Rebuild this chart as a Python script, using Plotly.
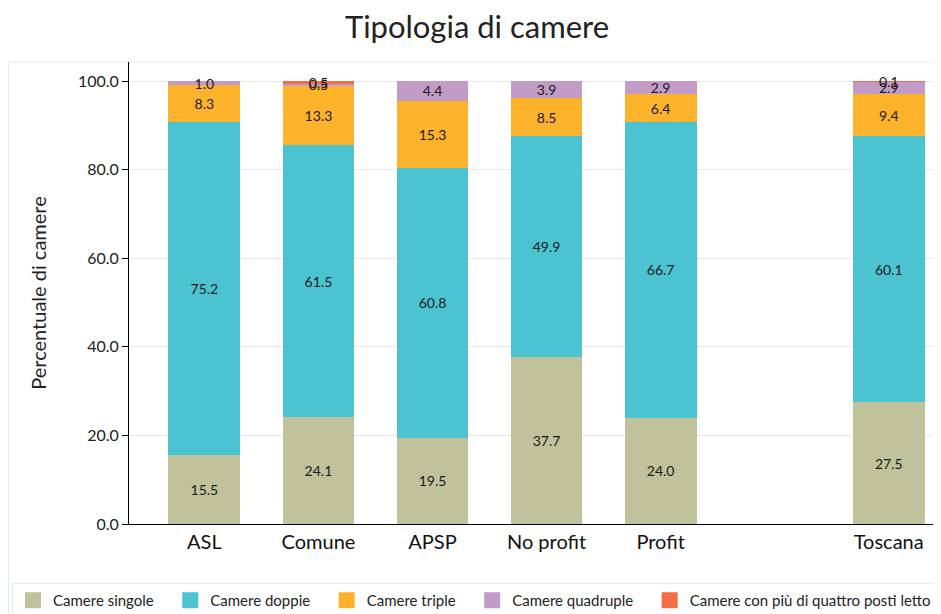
import plotly.graph_objects as go

# categories (blank slot keeps the gap before Toscana)
categories = ["ASL", "Comune", "APSP", "No profit", "Profit", " ", "Toscana"]

singole = [15.5, 24.1, 19.5, 37.7, 24.0, None, 27.5]
doppie = [75.2, 61.5, 60.8, 49.9, 66.7, None, 60.1]
triple = [8.3, 13.3, 15.3, 8.5, 6.4, None, 9.4]
quadruple = [1.0, 0.5, 4.4, 3.9, 2.9, None, 2.9]
piu_di_quattro = [None, 0.5, None, None, None, None, 0.1]

series = [
    ("Camere singole", singole, "#bfc29b"),
    ("Camere doppie", doppie, "#4bc3d1"),
    ("Camere triple", triple, "#fcb22a"),
    ("Camere quadruple", quadruple, "#c29bc7"),
    ("Camere con più di quattro posti letto", piu_di_quattro, "#f26d45"),
]

FONT = "Lato, sans-serif"
W, H = 960, 640
ML, MR, MT = 121, 13, 54
PW = W - ML - MR
PH = 462
MB = H - MT - PH
NBSP = "\u00a0"

fig = go.Figure()
for name, vals, color in series:
    fig.add_trace(
        go.Bar(
            x=categories,
            y=vals,
            name=name,
            showlegend=False,
            marker=dict(color=color, line=dict(width=0)),
            text=[f"{v:.1f}" if v is not None else "" for v in vals],
            textposition="inside",
            insidetextanchor="middle",
            textfont=dict(size=14, color="#1a1a1a", family=FONT),
            constraintext="none",
            cliponaxis=False,
            hovertemplate="%{x}: %{y:.1f}<extra>" + name + "</extra>",
        )
    )
    # legend entry with a bigger square swatch
    fig.add_trace(
        go.Scatter(
            x=[None],
            y=[None],
            mode="markers",
            name=name + NBSP * 3,
            marker=dict(symbol="square", size=22, color=color),
            hoverinfo="skip",
        )
    )

fig.update_layout(
    barmode="stack",
    bargap=0.37,
    width=W,
    height=H,
    margin=dict(l=ML, r=MR, t=MT, b=MB, autoexpand=False),
    paper_bgcolor="white",
    plot_bgcolor="white",
    font=dict(family=FONT, color="#222"),
    uniformtext=dict(minsize=14, mode="show"),
    title=dict(
        text="Tipologia di camere",
        x=469 / W,
        xanchor="center",
        y=1 - 19 / H,
        yanchor="middle",
        font=dict(size=31, family=FONT, color="#222"),
    ),
    xaxis=dict(
        type="category",
        range=[-0.661, 6.581],
        automargin=False,
        showline=True,
        linecolor="black",
        linewidth=1,
        ticks="",
        tickfont=dict(size=20, family=FONT, color="#111"),
        showgrid=False,
    ),
    yaxis=dict(
        range=[0, 104.3],
        tickvals=[0, 20, 40, 60, 80, 100],
        tickformat=".1f",
        automargin=False,
        showline=True,
        linecolor="black",
        linewidth=1,
        ticks="outside",
        ticklen=6,
        tickcolor="black",
        gridcolor="#e8e8e8",
        tickfont=dict(size=16, family=FONT, color="#222"),
        title=dict(text="Percentuale di camere", font=dict(size=20, family=FONT, color="#222"), standoff=25),
        zeroline=False,
    ),
    legend=dict(
        orientation="h",
        x=(4 - ML) / PW,
        xanchor="left",
        y=-(575 - (MT + PH)) / PH,
        yanchor="top",
        bordercolor="#e3ecee",
        borderwidth=1,
        font=dict(size=15, family=FONT, color="#222"),
        itemwidth=30,
        itemsizing="trace",
        traceorder="normal",
    ),
    shapes=[
        dict(
            type="rect",
            xref="paper",
            yref="paper",
            x0=(0.5 - ML) / PW,
            x1=1.2,
            y0=-0.4,
            y1=1.0,
            line=dict(color="#e3ecee", width=1),
            layer="below",
        )
    ],
)

fig.write_html("out.html")
